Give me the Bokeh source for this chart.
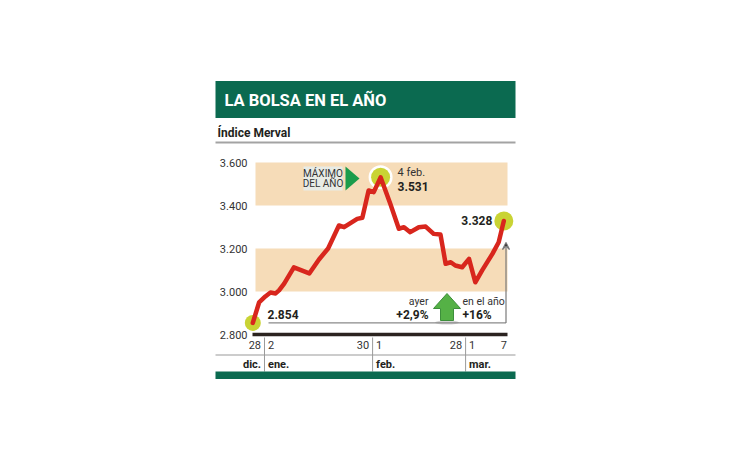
import numpy as np
from bokeh.plotting import figure
from bokeh.models import Range1d, Arrow, VeeHead
from bokeh.core.properties import value
from bokeh.embed import file_html
from bokeh.resources import INLINE

# ---------------- data ----------------
titulo = "LA BOLSA EN EL AÑO"
subtitulo = "Índice Merval"
# position along the session axis (28 dic. = 0 ... 7 mar. = 44)
dia = [0.0, 1.1, 2.2, 3.1, 4.0, 4.6, 5.5, 7.2, 9.9, 11.6,
       13.2, 15.1, 16.0, 18.3, 19.2, 20.3, 21.2, 22.4, 24.1, 25.6,
       26.5, 27.6, 29.1, 30.3, 31.7, 32.9, 33.8, 34.7, 35.5, 36.7,
       37.9, 39.0, 40.2, 42.0, 43.1, 44.0]
merval = [2854, 2949, 2977, 2995, 2991, 3005, 3037, 3112, 3084, 3149,
          3200, 3307, 3299, 3338, 3343, 3470, 3462, 3531, 3408, 3292,
          3299, 3276, 3299, 3302, 3268, 3265, 3129, 3136, 3121, 3113,
          3152, 3043, 3098, 3175, 3229, 3328]
y_ticks = [2800, 3000, 3200, 3400, 3600]
banda_inf = [3000, 3400]
banda_sup = [3200, 3600]
limites_mes = [2.05, 21.0, 37.3]          # month boundaries on the session axis
dias_antes = ["28", "30", "28"]            # last tick label before each boundary
dias_despues = ["2", "1", "1"]             # first tick label after each boundary
dia_final = "7"
meses_antes = ["dic."]
meses_despues = ["ene.", "feb.", "mar."]
fecha_max = "4 feb."
max_txt = "MÁXIMO"
max_txt2 = "DEL AÑO"
ayer_txt, ayer_var = "ayer", "+2,9%"
anio_txt, anio_var = "en el año", "+16%"


def fmt(v):
    return f"{v:,}".replace(",", ".")


# ---------------- layout (pixel <-> data) ----------------
W, H = 730, 460
X0, SX = 252.3, 5.705     # px of dia=0, px per unit
Y0, SY = 334.0, 0.215     # px of 2800, px per point


def X(px):
    return (px - X0) / SX


def Y(py):
    return y_ticks[0] + (Y0 - py) / SY


FONT = value("Roboto")
GREEN = "#0b6a50"
TAN = "#f6dcb8"
RED = "#d8261d"
YEL = "#c9d334"
DARK = "#231f20"

p = figure(width=W, height=H, x_range=Range1d(X(0), X(W)), y_range=Range1d(Y(H), Y(0)),
           x_axis_type=None, y_axis_type=None, toolbar_location=None,
           output_backend="svg", min_border=0, outline_line_color=None)
p.grid.visible = False
p.background_fill_color = "white"
p.border_fill_color = "white"

# title bar
p.quad(left=X(215), right=X(515), top=Y(80.5), bottom=Y(117.5), fill_color=GREEN, line_color=None)
p.text(x=[X(224)], y=[Y(99.5)], text=[titulo], text_color="white", text_font=FONT,
       text_font_style="bold", text_font_size="16.5px", text_baseline="middle")
p.text(x=[X(217)], y=[Y(132.5)], text=[subtitulo], text_color=DARK, text_font=FONT,
       text_font_style="bold", text_font_size="12px", text_baseline="middle")
p.segment(x0=[X(215)], x1=[X(515)], y0=[Y(142)], y1=[Y(142)], line_color="#a3a3a3", line_width=2)

# bands
p.quad(left=X(255), right=X(507), bottom=banda_inf, top=banda_sup, fill_color=TAN, line_color=None)

# y tick labels
p.text(x=[X(247)] * len(y_ticks), y=y_ticks, text=[fmt(v) for v in y_ticks], text_color="#333333",
       text_font=FONT, text_font_size="11px", text_align="right", text_baseline="middle")

# base axis line
p.segment(x0=[X(252)], x1=[X(507)], y0=[y_ticks[0]], y1=[y_ticks[0]], line_color="#2b2320", line_width=3.5)

# date rows
gap = 3.5 / SX
p.text(x=[b - gap for b in limites_mes], y=[Y(344.5)] * 3, text=dias_antes, text_color="#333333",
       text_font=FONT, text_font_size="11px", text_align="right", text_baseline="middle")
p.text(x=[b + gap for b in limites_mes], y=[Y(344.5)] * 3, text=dias_despues, text_color="#333333",
       text_font=FONT, text_font_size="11px", text_align="left", text_baseline="middle")
p.text(x=[dia[-1]], y=[Y(344.5)], text=[dia_final], text_color="#333333",
       text_font=FONT, text_font_size="11px", text_align="center", text_baseline="middle")
p.segment(x0=limites_mes, x1=limites_mes, y0=[Y(337)] * 3, y1=[Y(371)] * 3, line_color="#9a9a9a", line_width=1)
p.segment(x0=[X(215)], x1=[X(515)], y0=[Y(354.5)], y1=[Y(354.5)], line_color="#9a9a9a", line_width=1.2)
p.text(x=[limites_mes[0] - gap], y=[Y(364)], text=meses_antes, text_color=DARK, text_font=FONT,
       text_font_style="bold", text_font_size="11px", text_align="right", text_baseline="middle")
p.text(x=[b + gap for b in limites_mes], y=[Y(364)] * 3, text=meses_despues, text_color=DARK, text_font=FONT,
       text_font_style="bold", text_font_size="11px", text_align="left", text_baseline="middle")
p.quad(left=X(215), right=X(515), top=Y(371), bottom=Y(378.5), fill_color=GREEN, line_color=None)

# bracket from the year's start to the latest value
x_br = X(505.5)
p.segment(x0=[X(268)], x1=[x_br], y0=[merval[0]], y1=[merval[0]], line_color="#8a8a8a", line_width=1.2)
p.add_layout(Arrow(end=VeeHead(size=7, line_color="#7a7a7a", line_width=1.2),
                   x_start=x_br, y_start=merval[0], x_end=x_br, y_end=merval[-1] - 100,
                   line_color="#7a7a7a", line_width=1.2))

# markers
i_max = int(np.argmax(merval))
p.scatter(x=[dia[i_max]], y=[merval[i_max]], size=24, fill_color="white", line_color=None)
p.scatter(x=[dia[0], dia[i_max], dia[-1]], y=[merval[0], merval[i_max], merval[-1]],
          size=[16, 19, 19], fill_color=YEL, line_color=None)

# series line
p.line(x=dia, y=merval, line_color=RED, line_width=4.5, line_join="round", line_cap="round")

# value labels
p.text(x=[X(267)], y=[merval[0] + 8.5 / SY], text=[fmt(merval[0])], text_color=DARK, text_font=FONT,
       text_font_style="bold", text_font_size="12px", text_baseline="middle")
p.text(x=[dia[i_max] + 17 / SX], y=[merval[i_max] + 4.5 / SY], text=[fecha_max], text_color="#333333",
       text_font=FONT, text_font_size="11px", text_baseline="middle")
p.text(x=[dia[i_max] + 17 / SX], y=[merval[i_max] - 9 / SY], text=[fmt(merval[i_max])], text_color=DARK,
       text_font=FONT, text_font_style="bold", text_font_size="12px", text_baseline="middle")
p.text(x=[dia[-1] - 11.5 / SX], y=[merval[-1]], text=[fmt(merval[-1])], text_color=DARK, text_font=FONT,
       text_font_style="bold", text_font_size="12px", text_align="right", text_baseline="middle")

# "MÁXIMO DEL AÑO" box with green pointer
p.quad(left=X(303), right=X(342), top=Y(166), bottom=Y(190), fill_color="#e8ebe5", line_color=None)
p.text(x=[X(322.5)] * 2, y=[Y(172.5), Y(183)], text=[max_txt, max_txt2], text_color="#333333",
       text_font=FONT, text_font_size="10px", text_align="center", text_baseline="middle")
p.patch(x=[X(345), X(345), X(359)], y=[Y(166), Y(190), Y(178)], fill_color="#1b9c4b", line_color=None)

# daily / yearly change
p.text(x=[X(428)], y=[Y(301)], text=[ayer_txt], text_color="#333333", text_font=FONT,
       text_font_size="10.5px", text_align="right", text_baseline="middle")
p.text(x=[X(428)], y=[Y(314.5)], text=[ayer_var], text_color=DARK, text_font=FONT,
       text_font_style="bold", text_font_size="12px", text_align="right", text_baseline="middle")
p.text(x=[X(462)], y=[Y(301)], text=[anio_txt], text_color="#333333", text_font=FONT,
       text_font_size="10.5px", text_align="left", text_baseline="middle")
p.text(x=[X(462)], y=[Y(314.5)], text=[anio_var], text_color=DARK, text_font=FONT,
       text_font_style="bold", text_font_size="12px", text_align="left", text_baseline="middle")
p.ellipse(x=[X(446.5)], y=[Y(322)], width=24 / SX, height=4 / SY, fill_color="#888888",
          fill_alpha=0.35, line_color=None)
ax = [446.5, 460, 453, 453, 440, 440, 433]
ay = [293, 308, 308, 320, 320, 308, 308]
p.patch(x=[X(v) for v in ax], y=[Y(v) for v in ay], fill_color="#55b146", line_color="#3d8f3b", line_width=1)

open("out.html", "w").write(file_html(p, INLINE))
